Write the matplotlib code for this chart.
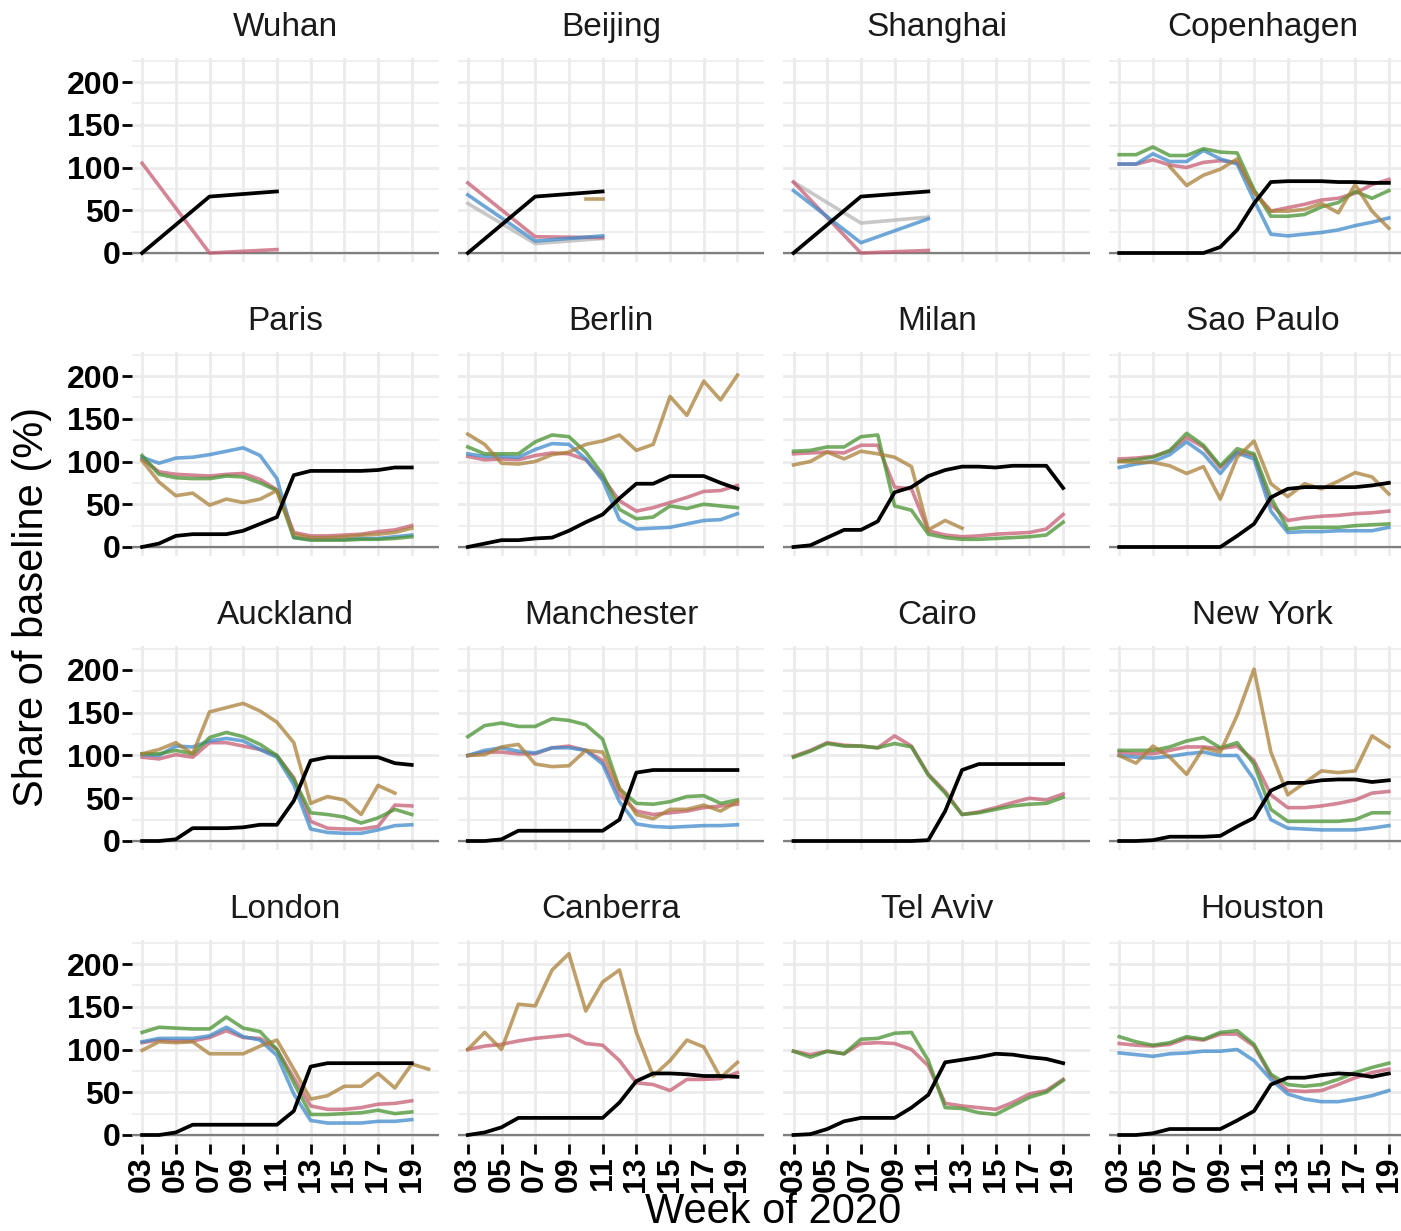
import numpy as np
import matplotlib
matplotlib.use('Agg')
import matplotlib.pyplot as plt

N = np.nan

weeks = list(range(3, 21))
week_ticks = list(range(3, 20, 2))
week_labels = ['%02d' % w for w in week_ticks]

# values per week, starting at week 03 (nan = no data that week)
wuhan = {
    'policy': [0, N, N, N, 66, N, N, N, 72],
    'retail': [105, N, N, N, 0, N, N, N, 4],
}
beijing = {
    'policy': [0, N, N, N, 66, N, N, N, 72],
    'retail': [82, N, N, N, 19, N, N, N, 18],
    'transit': [68, N, N, N, 14, N, N, N, 20],
    'grocery': [58, N, N, N, 11, N, N, N, 17],
    'parks': [N, N, N, N, N, N, N, 63, 63],
}
shanghai = {
    'policy': [0, N, N, N, 66, N, N, N, 72],
    'retail': [83, N, N, N, 0, N, N, N, 3],
    'transit': [73, N, N, N, 12, N, N, N, 40],
    'grocery': [83, N, N, N, 35, N, N, N, 42],
}
copenhagen = {
    'policy': [0, 0, 0, 0, 0, 0, 7, 27, 58, 83, 84, 84, 84, 83, 83, 82, 82],
    'retail': [104, 104, 109, 103, 100, 106, 108, 106, 72, 49, 53, 57, 62, 64, 70, 80, 86],
    'transit': [104, 104, 116, 107, 107, 120, 110, 104, 62, 22, 20, 22, 24, 27, 32, 36, 41],
    'workplace': [115, 115, 124, 114, 114, 122, 118, 117, 74, 43, 43, 45, 54, 59, 72, 64, 73],
    'parks': [N, N, N, 101, 79, 91, 98, 110, 70, 49, 49, 51, 58, 47, 80, 49, 29],
}
paris = {
    'policy': [0, 4, 13, 15, 15, 15, 19, 27, 35, 84, 89, 89, 89, 89, 90, 93, 93],
    'transit': [105, 98, 104, 105, 108, 112, 116, 107, 80, 11, 9, 9, 9, 10, 10, 12, 14],
    'workplace': [107, 85, 81, 80, 80, 83, 82, 75, 66, 11, 8, 8, 8, 9, 9, 10, 12],
    'retail': [103, 88, 85, 84, 83, 85, 86, 79, 67, 17, 13, 13, 14, 15, 18, 20, 25],
    'parks': [101, 76, 60, 63, 49, 56, 52, 56, 66, 15, 11, 11, 12, 14, 15, 17, 22],
}
berlin = {
    'policy': [0, 4, 8, 8, 10, 11, 19, 29, 38, 57, 74, 74, 83, 83, 83, 75, 68],
    'parks': [132, 120, 98, 97, 100, 108, 111, 120, 124, 131, 113, 120, 176, 154, 194, 172, 201],
    'workplace': [117, 109, 109, 109, 123, 131, 129, 111, 85, 44, 33, 35, 48, 45, 50, 48, 46],
    'transit': [109, 106, 106, 105, 114, 121, 120, 103, 78, 32, 21, 22, 23, 27, 31, 32, 39],
    'retail': [106, 102, 103, 102, 107, 110, 109, 102, 81, 54, 42, 46, 52, 58, 65, 66, 72],
}
milan = {
    'policy': [0, 2, 11, 20, 20, 30, 64, 70, 83, 90, 94, 94, 93, 95, 95, 95, 69],
    'workplace': [112, 113, 117, 117, 129, 131, 48, 43, 15, 11, 9, 9, 10, 11, 12, 14, 29],
    'retail': [109, 110, 111, 110, 119, 119, 70, 68, 19, 14, 12, 13, 15, 16, 17, 21, 38],
    'parks': [96, 100, 111, 103, 112, 109, 105, 94, 20, 31, 22],
}
sao_paulo = {
    'policy': [0, 0, 0, 0, 0, 0, 0, 13, 27, 58, 68, 70, 70, 70, 70, 72, 75],
    'workplace': [100, 102, 105, 113, 133, 119, 95, 115, 109, 58, 21, 23, 23, 23, 25, 26, 27],
    'retail': [103, 104, 106, 112, 128, 117, 93, 111, 107, 50, 31, 34, 36, 37, 39, 40, 42],
    'transit': [93, 97, 100, 108, 123, 109, 86, 110, 103, 42, 17, 18, 18, 19, 19, 19, 23],
    'parks': [100, 99, 99, 95, 86, 94, 56, 105, 124, 74, 59, 74, 68, 77, 87, 82, 62],
}
auckland = {
    'policy': [0, 0, 2, 15, 15, 15, 16, 19, 19, 47, 94, 98, 98, 98, 98, 91, 89],
    'parks': [102, 107, 115, 102, 151, 156, 161, 152, 139, 115, 44, 52, 48, 31, 65, 56],
    'workplace': [102, 102, 106, 102, 121, 127, 122, 113, 100, 72, 33, 31, 28, 21, 27, 37, 31],
    'retail': [98, 96, 101, 98, 115, 115, 111, 107, 100, 74, 23, 15, 14, 14, 17, 42, 41],
    'transit': [101, 100, 111, 110, 117, 120, 117, 107, 98, 66, 14, 10, 9, 9, 13, 18, 19],
}
manchester = {
    'policy': [0, 0, 2, 12, 12, 12, 12, 12, 12, 25, 80, 83, 83, 83, 83, 83, 83],
    'workplace': [122, 135, 138, 134, 134, 143, 141, 136, 119, 61, 44, 43, 46, 52, 53, 44, 48],
    'transit': [100, 106, 109, 105, 103, 109, 109, 106, 90, 46, 20, 17, 16, 17, 18, 18, 19],
    'retail': [100, 104, 104, 102, 102, 109, 111, 106, 94, 54, 35, 31, 33, 35, 39, 41, 43],
    'parks': [100, 101, 110, 113, 90, 87, 88, 106, 104, 62, 31, 26, 37, 37, 42, 35, 46],
}
cairo = {
    'policy': [0, 0, 0, 0, 0, 0, 0, 0, 1, 35, 83, 90, 90, 90, 90, 90, 90],
    'retail': [99, 106, 115, 112, 111, 109, 123, 111, 78, 58, 31, 34, 39, 45, 50, 48, 55],
    'workplace': [98, 105, 114, 111, 111, 109, 114, 110, 77, 56, 31, 33, 37, 41, 43, 44, 51],
}
new_york = {
    'policy': [0, 0, 1, 5, 5, 5, 6, 17, 27, 59, 68, 68, 71, 72, 72, 69, 71],
    'parks': [100, 91, 111, 98, 78, 109, 104, 147, 201, 104, 54, 68, 82, 80, 82, 123, 110],
    'workplace': [106, 106, 106, 110, 117, 121, 109, 115, 90, 37, 23, 23, 23, 23, 25, 33, 33],
    'retail': [104, 102, 102, 106, 110, 110, 108, 111, 94, 54, 39, 39, 41, 44, 48, 56, 58],
    'transit': [100, 98, 97, 99, 102, 104, 100, 100, 72, 25, 15, 14, 13, 13, 13, 15, 18],
}
london = {
    'policy': [0, 0, 3, 12, 12, 12, 12, 12, 12, 28, 80, 84, 84, 84, 84, 84, 84],
    'parks': [99, 109, 108, 109, 95, 95, 95, 104, 111, 77, 42, 46, 57, 57, 72, 55, 83, 77],
    'workplace': [120, 126, 125, 124, 124, 138, 125, 121, 100, 61, 24, 24, 25, 26, 29, 25, 27],
    'transit': [109, 113, 113, 113, 116, 126, 115, 111, 93, 48, 17, 14, 14, 14, 16, 16, 18],
    'retail': [108, 111, 110, 110, 114, 122, 114, 113, 100, 67, 34, 30, 30, 32, 36, 37, 40],
}
canberra = {
    'policy': [0, 3, 9, 20, 20, 20, 20, 20, 20, 38, 63, 72, 72, 71, 69, 69, 68],
    'parks': [100, 120, 100, 153, 151, 193, 212, 145, 179, 193, 120, 69, 87, 111, 103, 67, 85],
    'retail': [100, 104, 106, 110, 113, 115, 117, 107, 105, 87, 61, 59, 52, 65, 65, 66, 73],
}
tel_aviv = {
    'policy': [0, 1, 7, 16, 20, 20, 20, 32, 47, 85, 88, 91, 95, 94, 91, 89, 84],
    'workplace': [98, 91, 98, 95, 112, 113, 119, 120, 87, 32, 31, 26, 24, 34, 44, 50, 64],
    'retail': [98, 94, 98, 95, 107, 108, 107, 100, 81, 37, 34, 32, 30, 38, 48, 52, 65],
}
houston = {
    'policy': [0, 0, 2, 7, 7, 7, 7, 17, 28, 59, 67, 67, 70, 72, 71, 68, 72],
    'workplace': [115, 109, 105, 108, 115, 112, 120, 122, 106, 71, 59, 57, 59, 65, 73, 79, 84],
    'retail': [107, 105, 104, 106, 113, 111, 118, 118, 104, 69, 52, 51, 52, 59, 67, 73, 77],
    'transit': [96, 94, 92, 95, 96, 98, 98, 100, 87, 65, 48, 42, 39, 39, 42, 46, 52],
}

cities = ['Wuhan', 'Beijing', 'Shanghai', 'Copenhagen',
          'Paris', 'Berlin', 'Milan', 'Sao Paulo',
          'Auckland', 'Manchester', 'Cairo', 'New York',
          'London', 'Canberra', 'Tel Aviv', 'Houston']
city_data = [wuhan, beijing, shanghai, copenhagen,
             paris, berlin, milan, sao_paulo,
             auckland, manchester, cairo, new_york,
             london, canberra, tel_aviv, houston]

colors = {'grocery': '#b6b6b6', 'retail': '#c65e73', 'transit': '#3f8bcb',
          'workplace': '#489230', 'parks': '#aa7f38', 'policy': 'black'}
draw_order = ['grocery', 'retail', 'transit', 'workplace', 'parks', 'policy']

plt.rcParams['font.family'] = ['Liberation Sans', 'DejaVu Sans']

W, H = 1401, 1231
fig = plt.figure(figsize=(W / 100, H / 100), dpi=100)

px_per_unit = 0.855
for i, (name, data) in enumerate(zip(cities, city_data)):
    r, c = divmod(i, 4)
    left = 132 + c * 325.7
    zero_y = 253 + r * 294
    top = zero_y - 228 * px_per_unit
    bottom = zero_y + 11 * px_per_unit
    ax = fig.add_axes([left / W, 1 - bottom / H, 306.7 / W, (bottom - top) / H])

    for key in draw_order:
        if key not in data:
            continue
        vals = np.array(data[key], dtype=float)
        x = np.array(weeks[:len(vals)])
        m = ~np.isnan(vals)
        if key == 'policy':
            ax.plot(x[m], vals[m], color='black', lw=2.7, zorder=4)
        else:
            ax.plot(x[m], vals[m], color=colors[key], lw=2.6, alpha=0.75, zorder=3)

    ax.axhline(0, color='#7f7f7f', lw=1.6, zorder=2)

    ax.set_xlim(2.4, 20.6)
    ax.set_ylim(-11, 228)
    ax.set_xticks(week_ticks, week_labels)
    ax.set_yticks([0, 50, 100, 150, 200])
    ax.set_yticks([25, 75, 125, 175, 225], minor=True)
    ax.grid(which='major', color='#ebebeb', lw=2.0)
    ax.grid(which='minor', axis='y', color='#ebebeb', lw=1.1)
    ax.set_axisbelow(True)
    for s in ax.spines.values():
        s.set_visible(False)

    ax.tick_params(which='minor', length=0)
    ax.tick_params(axis='y', which='major', length=7 if c == 0 else 0, width=2,
                   pad=1.5, labelsize=23, labelleft=(c == 0))
    ax.tick_params(axis='x', which='major', length=7 if r == 3 else 0, width=2,
                   pad=1.5, labelsize=23, labelbottom=(r == 3), labelrotation=90)
    for lbl in ax.get_xticklabels() + ax.get_yticklabels():
        lbl.set_fontweight('bold')

    ax.set_title(name, fontsize=24, pad=16, color='#1a1a1a')

fig.text(773 / W, 1 - 1223 / H, 'Week of 2020', ha='center', va='baseline', fontsize=30)
fig.text(32 / W, 1 - 607 / H, 'Share of baseline (%)', ha='center', va='center',
         rotation=90, fontsize=30)

fig.savefig('out.png', dpi=100)
